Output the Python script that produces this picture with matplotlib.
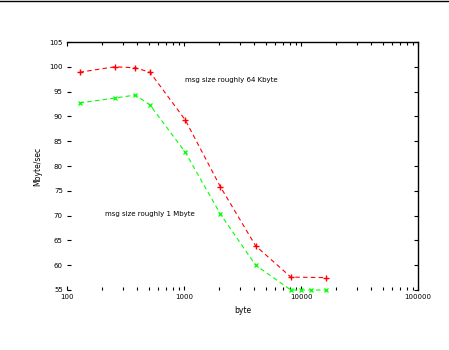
import matplotlib
matplotlib.use("Agg")
import matplotlib.pyplot as plt
from matplotlib.lines import Line2D

# data (message size in bytes, throughput in Mbyte/sec)
red_x = [128, 256, 384, 512, 1024, 2048, 4096, 8192, 16384]
red_y = [98.9, 100.0, 99.8, 98.9, 89.3, 75.8, 63.9, 57.6, 57.5]
green_x = [128, 256, 384, 512, 1024, 2048, 4096, 8192, 10000, 12288, 16384]
green_y = [92.7, 93.7, 94.3, 92.3, 82.8, 70.3, 60.0, 55.0, 55.0, 55.0, 55.0]

xticks = [100, 1000, 10000, 100000]
xticklabels = ["100", "1000", "10000", "100000"]
yticks = [55, 60, 65, 70, 75, 80, 85, 90, 95, 100, 105]

W, H = 449, 350
fig = plt.figure(figsize=(W / 100, H / 100), dpi=100)
ax = fig.add_axes([67 / W, 1 - 290 / H, (418 - 67) / W, (290 - 42) / H])

ax.plot(red_x, red_y, color="#ff0000", linestyle=(0, (4, 3)), linewidth=0.8,
        marker="+", markersize=5, markeredgewidth=1.0, clip_on=False)
ax.plot(green_x, green_y, color="#00ff00", linestyle=(0, (4, 3)), linewidth=0.8,
        marker="x", markersize=3.5, markeredgewidth=0.9, clip_on=False)

ax.set_xscale("log")
ax.set_xlim(100, 100000)
ax.set_ylim(55, 105)
ax.set_xticks(xticks)
ax.set_xticklabels(xticklabels)
ax.set_yticks(yticks)

ax.tick_params(axis="both", which="major", direction="in", length=3, width=0.8,
               labelsize=5, top=True, right=True, pad=3)
ax.tick_params(axis="x", which="minor", direction="in", length=2, width=0.8,
               top=True, bottom=True)

for s in ("left", "bottom"):
    ax.spines[s].set_visible(False)
for s in ("top", "right"):
    ax.spines[s].set_linewidth(1.0)
    ax.spines[s].set_color("black")

ax.set_xlabel("byte", fontsize=5.5, labelpad=4)
ax.set_ylabel("Mbyte/sec", fontsize=5.5, labelpad=5)

ax.text(1021, 97.3, "msg size roughly 64 Kbyte", fontsize=5, va="center", ha="left")
ax.text(211, 70.3, "msg size roughly 1 Mbyte", fontsize=5, va="center", ha="left")

fig.add_artist(Line2D([0, 1], [1 - 1 / H, 1 - 1 / H], transform=fig.transFigure,
                      color="black", linewidth=1.0))

fig.savefig("out.png", dpi=100)
